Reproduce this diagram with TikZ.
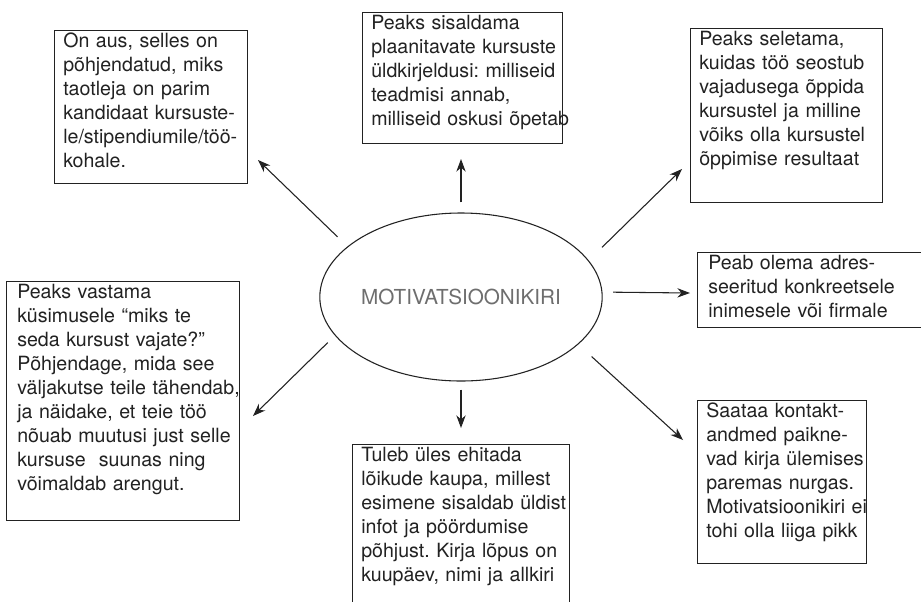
\documentclass[tikz,border=0pt]{standalone}
\usepackage{fontspec}
\setmainfont{TeX Gyre Heros}
\frenchspacing
\usetikzlibrary{arrows.meta,shapes.geometric}
\definecolor{ink}{HTML}{222222}
\definecolor{midgray}{HTML}{6E6E6E}
\tikzset{
  frame/.style={draw=ink, line width=0.85pt, inner sep=0pt, anchor=north west},
  txt/.style={anchor=north west, inner sep=0pt, align=left, text width=200pt,
    font=\fontsize{14.7}{18}\selectfont\frenchspacing, text=ink},
  arr/.style={draw=ink, line width=0.8pt, -{Stealth[length=9.5pt,width=7pt]}},
  hub/.style={ellipse, draw=ink, line width=0.8pt, inner sep=0pt,
    minimum width=196.5pt, minimum height=126pt,
    font=\fontsize{15.5}{18}\selectfont, text=midgray}
}
\begin{document}
\begin{tikzpicture}[x=0.75pt,y=-0.75pt]
\useasboundingbox (0,0) rectangle (921,601);
\clip (0,0) rectangle (921,601);
\fill[white] (0,0) rectangle (921,601);

% central ellipse
\node[hub] (ell) at (461,297) {MOTIVATSIOONIKIRI};

% boxes
\node[frame, minimum width=144.75pt, minimum height=114.75pt] (b1) at (54,30) {};
\node[txt] (b1t) at ([shift={(9,3)}]b1.north west)
  {On aus, selles on\\põhjendatud, miks\\taotleja on parim\\kandidaat kursuste-\\le/stipendiumile/töö-\\kohale.};

\node[frame, minimum width=150pt, minimum height=98.25pt] (b2) at (362,12) {};
\node[txt] (b2t) at ([shift={(9,3)}]b2.north west)
  {Peaks sisaldama\\plaanitavate kursuste\\üldkirjeldusi: milliseid\\teadmisi annab,\\milliseid oskusi õpetab};

\node[frame, minimum width=144pt, minimum height=130.5pt] (b3) at (690,28) {};
\node[txt] (b3t) at ([shift={(9,3)}]b3.north west)
  {Peaks seletama,\\kuidas töö seostub\\vajadusega õppida\\kursustel ja milline\\võiks olla kursustel\\õppimise resultaat};

\node[frame, minimum width=195pt, minimum height=56.25pt] (b4) at (697,252) {};
\node[txt] (b4t) at ([shift={(11,3)}]b4.north west)
  {Peab olema adres-\\seeritud konkreetsele\\inimesele või firmale};

\node[frame, minimum width=126.75pt, minimum height=122.25pt] (b5) at (697,400) {};
\node[txt] (b5t) at ([shift={(9,3)}]b5.north west)
  {Saataa kontakt-\\andmed paikne-\\vad kirja ülemises\\paremas nurgas.\\Motivatsioonikiri ei\\tohi olla liiga pikk};

\node[frame, minimum width=162.75pt, minimum height=150pt] (b6) at (352,444) {};
\node[txt] (b6t) at ([shift={(9,3)}]b6.north west)
  {Tuleb üles ehitada\\lõikude kaupa, millest\\esimene sisaldab üldist\\infot ja pöördumise\\põhjust. Kirja lõpus on\\kuupäev, nimi ja allkiri};

\node[frame, minimum width=174.75pt, minimum height=179.25pt] (b7) at (6,281) {};
\node[txt] (b7t) at ([shift={(11,3)}]b7.north west)
  {Peaks vastama\\küsimusele “miks te\\seda kursust vajate?”\\Põhjendage, mida see\\väljakutse teile tähendab,\\ja näidake, et teie töö\\nõuab muutusi just selle\\kursuse\ \ suunas ning\\võimaldab arengut.};

% arrow tips
\coordinate (t1) at (258,160);
\coordinate (t2) at (461,159);
\coordinate (t3) at (682,169);
\coordinate (t4) at (690,293);
\coordinate (t5) at (683,440);
\coordinate (t6) at (461,428);
\coordinate (t7) at (253,416);

\draw[arr, shorten <=10.3pt] (ell.156) -- (t1);
\draw[arr, shorten <=7.5pt] (ell.90) -- (t2);
\draw[arr, shorten <=14pt] (ell.16) -- (t3);
\draw[arr, shorten <=8pt] (ell.2) -- (t4);
\draw[arr, shorten <=13.5pt] (ell.338) -- (t5);
\draw[arr, shorten <=6pt] (ell.270) -- (t6);
\draw[arr, shorten <=7.5pt] (ell.197.6) -- (t7);
\end{tikzpicture}
\end{document}
